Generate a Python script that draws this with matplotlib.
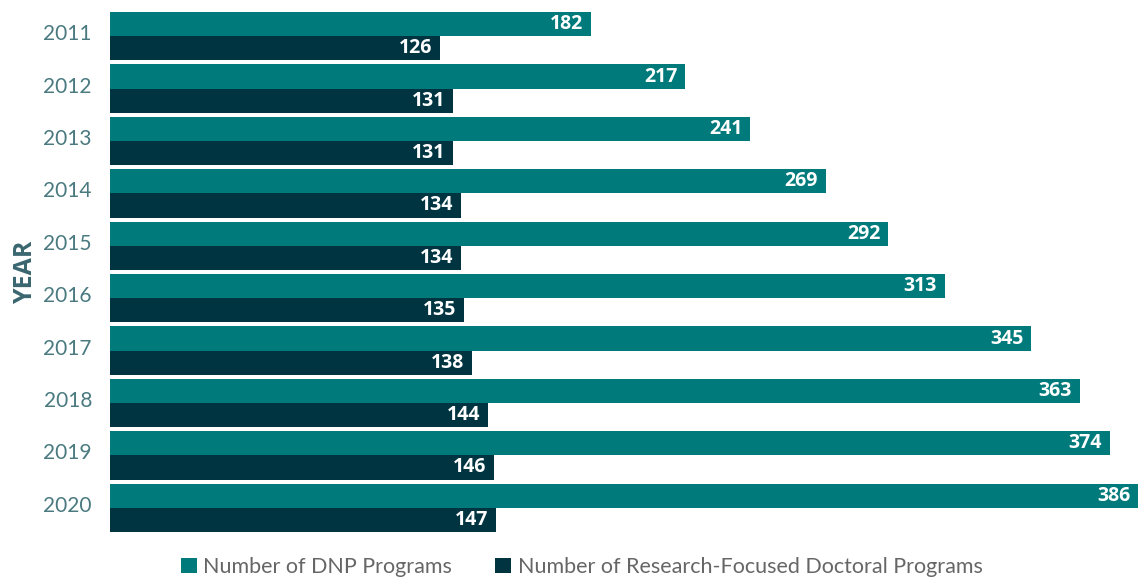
import matplotlib
matplotlib.use("Agg")
import matplotlib.pyplot as plt
import matplotlib.transforms as mtransforms
import numpy as np

years = ["2011", "2012", "2013", "2014", "2015", "2016", "2017", "2018", "2019", "2020"]
dnp = [182, 217, 241, 269, 292, 313, 345, 363, 374, 386]
research = [126, 131, 131, 134, 134, 135, 138, 144, 146, 147]
series_names = ["Number of DNP Programs", "Number of Research-Focused Doctoral Programs"]

plt.rcParams['font.family'] = ['Lato', 'DejaVu Sans']

c_dnp = "#007A7B"
c_res = "#003440"

fig = plt.figure(figsize=(11.38, 5.8), dpi=100)
ax = fig.add_axes([110/1138, 1 - 534/580, 1 - 110/1138, 524/580])

xmin, xmax = 4, 384.5
y = np.arange(len(years))
h = 0.46
b1 = ax.barh(y - h/2, dnp, height=h, color=c_dnp, label=series_names[0])
b2 = ax.barh(y + h/2, research, height=h, color=c_res, label=series_names[1])

for bars, vals in ((b1, dnp), (b2, research)):
    for bar, v in zip(bars, vals):
        end = min(bar.get_width(), xmax)
        ax.text(end - 2.9, bar.get_y() + bar.get_height()/2, str(v),
                ha='right', va='center', color='white', fontsize=14, fontweight='bold',
                family=['Open Sans', 'DejaVu Sans'])

ax.set_xlim(xmin, xmax)
ax.set_ylim(9.5, -0.5)
ax.set_yticks(y)
ax.set_yticklabels(years, fontsize=15, color="#4a7a80")
ax.tick_params(axis='y', length=0, pad=13)
offset = mtransforms.ScaledTranslation(0, 4/100, fig.dpi_scale_trans)
for lab in ax.get_yticklabels():
    lab.set_transform(lab.get_transform() + offset)
ax.set_xticks([])
for s in ax.spines.values():
    s.set_visible(False)

ax.set_ylabel("YEAR", fontsize=18, fontweight='bold', color="#3a6670", labelpad=4,
              family=['Open Sans', 'DejaVu Sans'])

fig.legend(handles=[b1, b2], labels=series_names, loc='center', bbox_to_anchor=(0.511, 1 - 567/580),
           ncol=2, frameon=False, fontsize=15.5, handlelength=0.75, handleheight=0.75,
           handletextpad=0.3, columnspacing=2.0, labelcolor="#666666")

fig.savefig("out.png", dpi=100)
